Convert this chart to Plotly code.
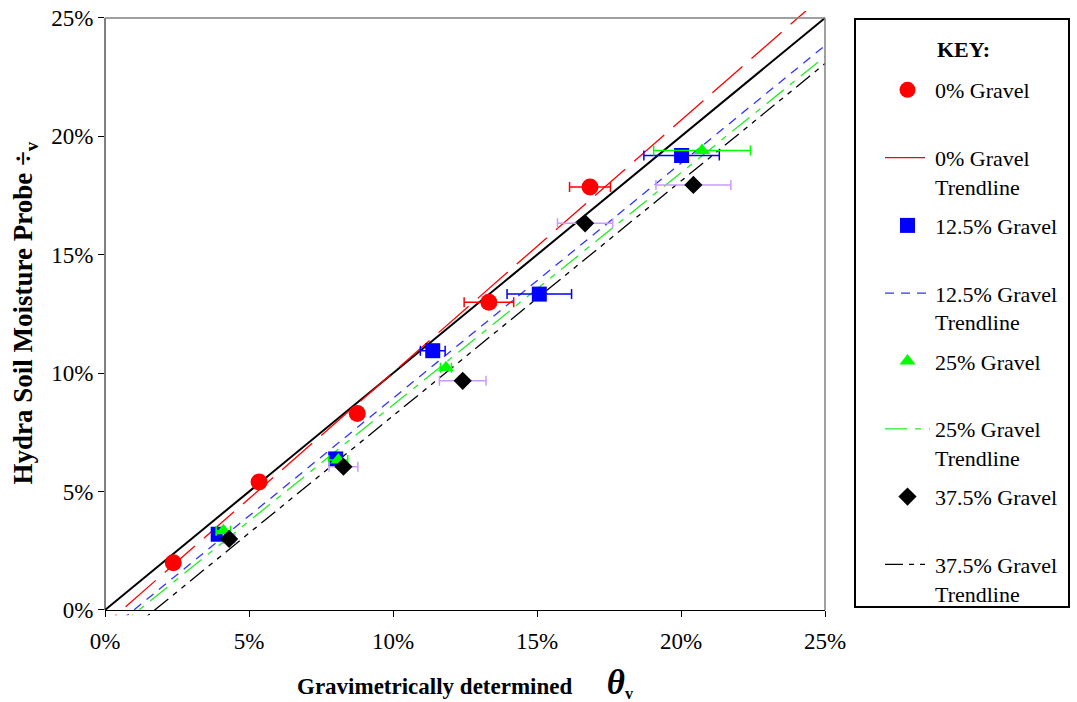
import numpy as np
import plotly.graph_objects as go

# Gravimetric theta_v (%) against Hydra probe reading (%), with x error (+/- %)
grav_0 = [2.37, 5.35, 8.76, 13.33, 16.84]
probe_0 = [2.00, 5.41, 8.30, 13.00, 17.86]
err_0 = [0.0, 0.0, 0.0, 0.86, 0.71]

grav_125 = [3.93, 8.01, 11.38, 15.08, 20.02]
probe_125 = [3.20, 6.38, 10.95, 13.34, 19.19]
err_125 = [0.0, 0.0, 0.43, 1.12, 1.31]

grav_25 = [4.11, 8.10, 11.84, 20.73]
probe_25 = [3.35, 6.33, 10.23, 19.40]
err_25 = [0.25, 0.33, 0.19, 1.68]

grav_375 = [4.31, 8.28, 12.42, 16.67, 20.43]
probe_375 = [3.00, 6.05, 9.68, 16.33, 17.95]
err_375 = [0.20, 0.50, 0.81, 0.96, 1.30]

tick_vals = [0, 5, 10, 15, 20, 25]
tick_text = ["0%", "5%", "10%", "15%", "20%", "25%"]

axis_min, axis_max = 0, 25
# trendlines run a little past the frame before being cut
trend_lo, trend_hi = -0.22, 25.3

# ---- page geometry (pixels) ----
W, H = 1077, 702
PL, PR, PT, PB = 105, 825, 18, 610          # plot frame
ML, MR, MT, MB = PL, W - PR, 8, H - 620      # figure margins
paper_h = H - MT - MB
paper_w = W - ML - MR


def fy(px):
    return (H - MB - px) / paper_h


def fx(px):
    return (px - ML) / paper_w


px_per_unit = (PB - PT) / (axis_max - axis_min)
frame_y = [fy(PB), fy(PT)]
plot_dom = [fy(PB - (trend_lo - axis_min) * px_per_unit),
            fy(PT - (trend_hi - axis_max) * px_per_unit)]

FONT = "Liberation Serif"

series = [
    dict(name="0% Gravel", x=grav_0, y=probe_0, e=err_0, color="#FF0000",
         symbol="circle", size=17, ecolor="#FF0000",
         tname="0% Gravel<br>Trendline", tcolor="#FF0000", dash="40px,12px"),
    dict(name="12.5% Gravel", x=grav_125, y=probe_125, e=err_125, color="#0000FF",
         symbol="square", size=15, ecolor="#0000FF",
         tname="12.5% Gravel<br>Trendline", tcolor="#3333FF", dash="9px,7px"),
    dict(name="25% Gravel", x=grav_25, y=probe_25, e=err_25, color="#00FF00",
         symbol="triangle-up", size=14, ecolor="#00FF00",
         tname="25% Gravel<br>Trendline", tcolor="#22EE22", dash="22px,8px,6px,8px"),
    dict(name="37.5% Gravel", x=grav_375, y=probe_375, e=err_375, color="#000000",
         symbol="diamond", size=14, ecolor="#CC99FF",
         tname="37.5% Gravel<br>Trendline", tcolor="#000000",
         dash="18px,6px,5px,6px,5px,6px"),
]

fig = go.Figure()

# 1:1 reference line (drawn first so it sits beneath the data)
fig.add_trace(go.Scatter(x=[axis_min, axis_max], y=[axis_min, axis_max], mode="lines",
                         line=dict(color="black", width=2), showlegend=False,
                         hoverinfo="skip"))

fit_x = np.array([axis_min - 2, axis_max + 2], dtype=float)
for i, s in enumerate(series):
    slope, icpt = np.polyfit(s["x"], s["y"], 1)
    fig.add_trace(go.Scatter(
        x=fit_x, y=slope * fit_x + icpt, mode="lines", name=s["tname"],
        line=dict(color=s["tcolor"], width=1.3, dash=s["dash"]),
        legendrank=2 * i + 2, legendgroup=f"t{i}", hoverinfo="skip"))

for i, s in enumerate(series):
    fig.add_trace(go.Scatter(
        x=s["x"], y=s["y"], mode="markers", name=s["name"] + "<br> ",
        marker=dict(symbol=s["symbol"], size=s["size"], color=s["color"],
                    line=dict(width=0)),
        error_x=dict(type="data", array=s["e"], visible=True, color=s["ecolor"],
                     thickness=1.5, width=5),
        legendrank=2 * i + 1, legendgroup=f"m{i}"))

tickfont = dict(family=FONT, size=23, color="black")

fig.update_layout(
    width=W, height=H,
    margin=dict(l=ML, r=MR, t=MT, b=MB, autoexpand=False),
    paper_bgcolor="white", plot_bgcolor="white",
    font=dict(family=FONT, size=22, color="black"),
    xaxis=dict(range=[axis_min, axis_max], domain=[0, 1],
               anchor="free", position=frame_y[0],
               showgrid=False, zeroline=False,
               showline=True, linecolor="black", linewidth=1,
               ticks="outside", ticklen=6, tickwidth=1, tickcolor="black",
               tickmode="array", tickvals=tick_vals, ticktext=tick_text,
               tickfont=tickfont, ticklabelstandoff=4,
               title=dict(text="<b>Gravimetrically determined &nbsp;&nbsp;&nbsp;&nbsp;&nbsp;"
                               "<i><span style='font-size:35px'>θ</span></i>"
                               "<sub>v</sub></b>",
                          font=dict(family=FONT, size=23, color="black"),
                          standoff=27)),
    yaxis=dict(range=[trend_lo, trend_hi], domain=plot_dom, anchor="x",
               showgrid=False, zeroline=False, showline=False,
               ticks="outside", ticklen=6, tickwidth=1, tickcolor="black",
               tickmode="array", tickvals=tick_vals, ticktext=tick_text,
               tickfont=tickfont,
               title=dict(text="<b>Hydra Soil Moisture Probe ÷<sub>v</sub></b>",
                          font=dict(family=FONT, size=27, color="black"),
                          standoff=10)),
    showlegend=True,
    legend=dict(xref="container", yref="container", x=880 / W, y=1 - 69 / H,
                xanchor="left", yanchor="top", bgcolor="rgba(0,0,0,0)",
                font=dict(family=FONT, size=22, color="black"),
                tracegroupgap=7.6, valign="top", itemwidth=45,
                traceorder="grouped", maxheight=650),
    shapes=[
        # left edge of the frame (black) and grey top / right edges
        dict(type="line", xref="paper", yref="paper", x0=0, x1=0,
             y0=frame_y[0], y1=frame_y[1], line=dict(color="black", width=1)),
        dict(type="line", xref="paper", yref="paper", x0=0, x1=1,
             y0=frame_y[1], y1=frame_y[1], line=dict(color="#808080", width=1.5)),
        dict(type="line", xref="paper", yref="paper", x0=1, x1=1,
             y0=frame_y[0], y1=frame_y[1], line=dict(color="#808080", width=1.5)),
        # key box
        dict(type="rect", xref="paper", yref="paper", x0=fx(855), x1=fx(1069),
             y0=fy(607), y1=fy(19), line=dict(color="black", width=2)),
    ],
    annotations=[
        dict(text="<b>KEY:</b>", xref="paper", yref="paper", x=fx(935), y=fy(50),
             xanchor="left", yanchor="middle", showarrow=False,
             font=dict(family=FONT, size=22, color="black")),
    ],
)

fig.write_html("out.html")
